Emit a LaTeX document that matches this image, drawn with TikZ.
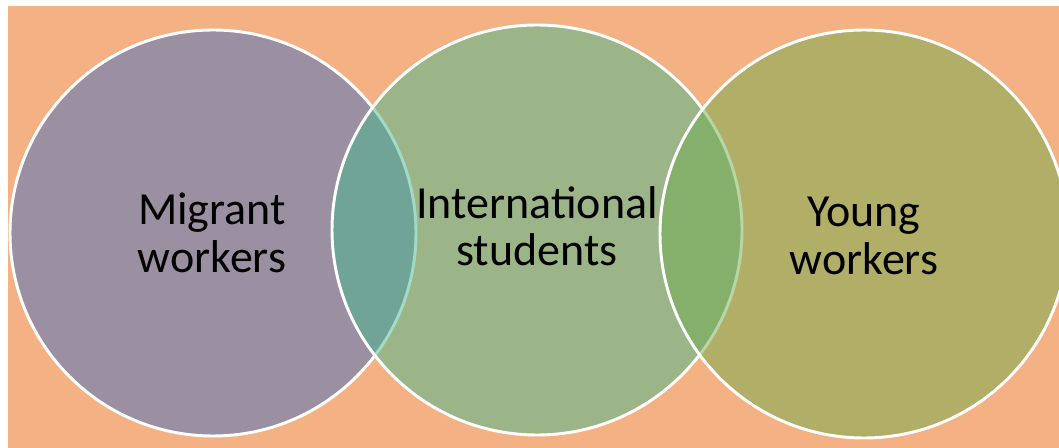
\documentclass[tikz,border=0pt]{standalone}
\usepackage{fontspec}
\setmainfont{Carlito}
\definecolor{bgorange}{RGB}{244,177,131}
\definecolor{cblue}{RGB}{68,112,193}
\definecolor{cteal}{RGB}{68,185,141}
\definecolor{cgreen}{RGB}{112,173,79}
\begin{document}
\begin{tikzpicture}[x=0.75pt,y=-0.75pt,
  venn/.style={circle, inner sep=0pt, draw=white, line width=2.2pt, fill opacity=0.5},
  label/.style={align=center, text=black, font=\fontsize{34.5}{35.5}\selectfont}]
\useasboundingbox (0,0) rectangle (1059,448);
\fill[white] (0,0) rectangle (1059,448);
\fill[bgorange] (8,6) rectangle (1059,448);
\begin{scope}
\clip (0,0) rectangle (1059,448);
\node[venn, fill=cblue, minimum size=304.5pt] (mig) at (213,233) {};
\node[venn, fill=cteal, minimum size=307.5pt] (intl) at (537,230) {};
\node[venn, fill=cgreen, minimum size=306pt] (young) at (864,234) {};
\end{scope}
\node[label] (tmig) at (212,233) {Migrant\\workers};
\node[label] (tintl) at (537,226) {International\\students};
\node[label] (tyoung) at (864,236) {Young\\workers};
\end{tikzpicture}
\end{document}
